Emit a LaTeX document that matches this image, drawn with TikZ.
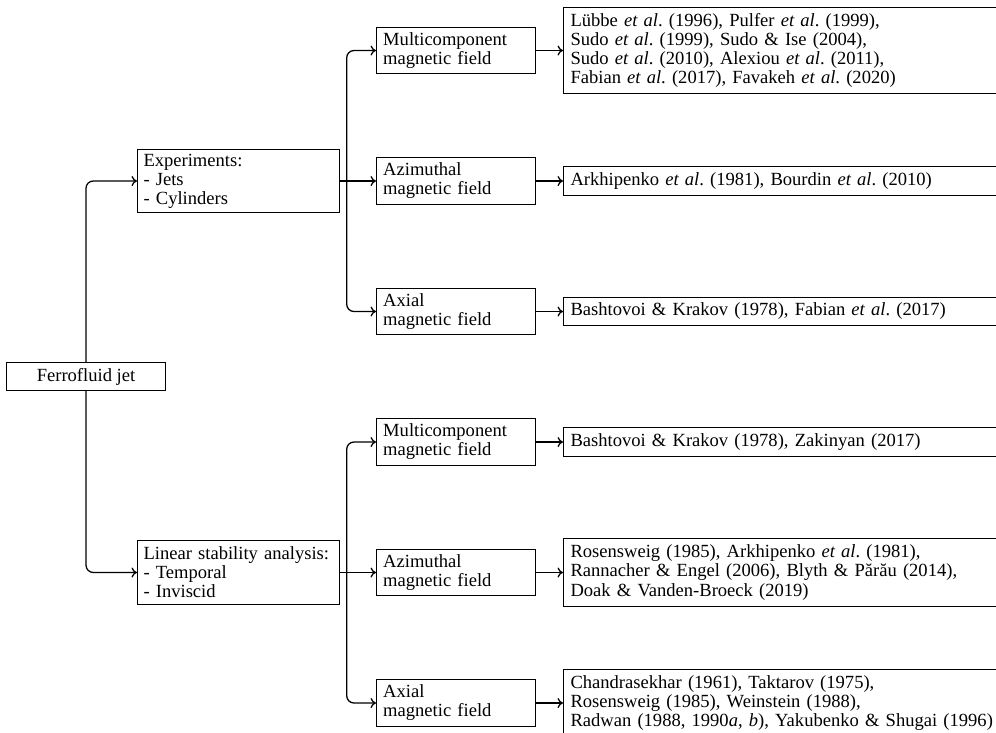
\documentclass[tikz,border=0pt]{standalone}
\usepackage{fontspec}
\setmainfont{Liberation Serif}
\usetikzlibrary{arrows.meta}
\frenchspacing
\begin{document}
\begin{tikzpicture}[x=0.5495pt,y=-0.5495pt,
  box/.style={draw,line width=0.55pt,fill=white,font=\fontsize{10.2}{10.5}\selectfont,inner ysep=2pt},
  lvl1/.style={box,anchor=west,text width=104.4pt,inner xsep=3.3pt,align=left,minimum height=35pt},
  lvl2/.style={box,anchor=west,text width=80pt,inner xsep=3.7pt,align=left,minimum height=25.3pt},
  refbox/.style={box,anchor=west,text width=242pt,inner xsep=3.85pt,align=left},
  conn/.style={-{To[length=3pt,width=5.5pt]},line width=0.7pt,rounded corners=4pt}]
\path[use as bounding box,clip] (0,0) rectangle (996,733);

\node[box,minimum width=87.9pt,minimum height=15.2pt] (ff) at (86,376.75) {Ferrofluid jet};

\node[lvl1] (exp) at (137,181) {Experiments:\\- Jets\\- Cylinders};
\node[lvl1] (lin) at (137,572.5) {\makebox[103pt][s]{Linear stability analysis:}\\- Temporal\\- Inviscid};

\node[lvl2] (m1) at (376,50.5) {Multicomponent\\magnetic field};
\node[lvl2] (a1) at (376,181) {Azimuthal\\magnetic field};
\node[lvl2] (x1) at (376,311.5) {Axial\\magnetic field};
\node[lvl2] (m2) at (376,442) {Multicomponent\\magnetic field};
\node[lvl2] (a2) at (376,572.5) {Azimuthal\\magnetic field};
\node[lvl2] (x2) at (376,703) {Axial\\magnetic field};

\node[refbox,minimum height=47.6pt] (r1) at (563,50.5) {L\"ubbe \textit{et al}. (1996), Pulfer \textit{et al}. (1999),\\Sudo \textit{et al}. (1999), Sudo \& Ise (2004),\\Sudo \textit{et al}. (2010), Alexiou \textit{et al}. (2011),\\Fabian \textit{et al}. (2017), Favakeh \textit{et al}. (2020)};
\node[refbox,minimum height=15.8pt] (r2) at (563,181) {Arkhipenko \textit{et al}. (1981), Bourdin \textit{et al}. (2010)};
\node[refbox,minimum height=15.8pt] (r3) at (563,311.5) {Bashtovoi \& Krakov (1978), Fabian \textit{et al}. (2017)};
\node[refbox,minimum height=15.8pt] (r4) at (563,442) {Bashtovoi \& Krakov (1978), Zakinyan (2017)};
\node[refbox,minimum height=37pt] (r5) at (563,572.5) {Rosensweig (1985), Arkhipenko \textit{et al}. (1981),\\Rannacher \& Engel (2006), Blyth \& P\u{a}r\u{a}u (2014),\\Doak \& Vanden-Broeck (2019)};
\node[refbox,minimum height=37pt] (r6) at (563,703) {Chandrasekhar (1961), Taktarov (1975),\\Rosensweig (1985), Weinstein (1988),\\Radwan (1988, 1990\textit{a}, \textit{b}), Yakubenko \& Shugai (1996)};

\coordinate (b1) at (346.7,181);
\coordinate (b2) at (346.7,572.5);

\draw[conn] (ff.north) |- (exp.west);
\draw[conn] (ff.south) |- (lin.west);

\draw[conn] (exp.east) -- (a1.west);
\draw[conn] (b1) |- (m1.west);
\draw[conn] (b1) |- (x1.west);
\draw[conn] (lin.east) -- (a2.west);
\draw[conn] (b2) |- (m2.west);
\draw[conn] (b2) |- (x2.west);

\draw[conn] (m1.east) -- (r1.west);
\draw[conn] (a1.east) -- (r2.west);
\draw[conn] (x1.east) -- (r3.west);
\draw[conn] (m2.east) -- (r4.west);
\draw[conn] (a2.east) -- (r5.west);
\draw[conn] (x2.east) -- (r6.west);
\end{tikzpicture}
\end{document}
